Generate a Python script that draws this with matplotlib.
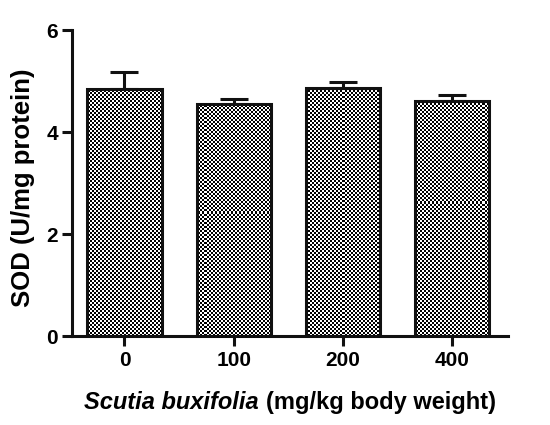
import matplotlib
matplotlib.use("Agg")
import matplotlib.pyplot as plt
import numpy as np
from matplotlib import font_manager
from matplotlib.offsetbox import TextArea, HPacker, AnchoredOffsetbox

# pick the regular (not Narrow) Liberation Sans faces
def find_font(italic):
    for f in font_manager.fontManager.ttflist:
        if f.name == 'Liberation Sans' and f.weight in (700, 'bold') and \
                (f.style == 'italic') == italic:
            return f.fname
    return None

bold_path = find_font(False)
bold_it_path = find_font(True)
fp_tick = font_manager.FontProperties(fname=bold_path, size=15)
fp_ylab = font_manager.FontProperties(fname=bold_path, size=18.5)
fp_xlab = font_manager.FontProperties(fname=bold_path, size=17)
fp_xlab_it = font_manager.FontProperties(fname=bold_it_path, size=17)

# data
doses = ['0', '100', '200', '400']
sod_mean = [4.84, 4.55, 4.86, 4.61]
sod_err = [0.34, 0.10, 0.12, 0.12]

fig = plt.figure(figsize=(5.5, 4.25), dpi=100)
ax = fig.add_axes([72 / 550, 89 / 425, 436 / 550, 306 / 425])

x = np.arange(len(doses))
xlim = (-0.48, 3.51)
ylim = (0, 6)
bars = ax.bar(x, sod_mean, width=0.68, facecolor='none', edgecolor='#111111',
              linewidth=2.2, zorder=3)
ax.errorbar(x, sod_mean, yerr=[[0] * len(sod_err), sod_err], fmt='none',
            ecolor='#111111', elinewidth=2.2, capsize=10, capthick=2.2, zorder=1)

# checkerboard fill, 2 px cells, clipped to each bar
ii, jj = np.indices((153, 218))
checker = (ii + jj) % 2
for b in bars:
    im = ax.imshow(checker, cmap='gray', extent=(*xlim, *ylim), aspect='auto',
                   interpolation='nearest', origin='lower', zorder=2, vmin=0, vmax=1)
    im.set_clip_path(b)

ax.set_xlim(*xlim)
ax.set_ylim(*ylim)
ax.set_yticks([0, 2, 4, 6])
ax.set_xticks(x)
ax.set_xticklabels(doses)
for s in ['top', 'right']:
    ax.spines[s].set_visible(False)
for s in ['left', 'bottom']:
    ax.spines[s].set_linewidth(2.2)
    ax.spines[s].set_color('#111111')
ax.tick_params(width=2.2, length=7, color='#111111', pad=3)
ax.tick_params(axis='x', pad=4)
for lab in ax.get_xticklabels() + ax.get_yticklabels():
    lab.set_fontproperties(fp_tick)

ax.set_ylabel('SOD (U/mg protein)', fontproperties=fp_ylab)
ax.yaxis.set_label_coords(-0.086, 0.485)

# x label: italic species name followed by plain bold units
parts = HPacker(children=[TextArea('Scutia buxifolia', textprops=dict(fontproperties=fp_xlab_it)),
                          TextArea('(mg/kg body weight)', textprops=dict(fontproperties=fp_xlab))],
                align='baseline', pad=0, sep=5)
box = AnchoredOffsetbox(loc='upper center', child=parts, frameon=False,
                        bbox_to_anchor=(0.5, -0.18), bbox_transform=ax.transAxes,
                        borderpad=0, pad=0)
ax.add_artist(box)

fig.savefig('out.png', dpi=100)
